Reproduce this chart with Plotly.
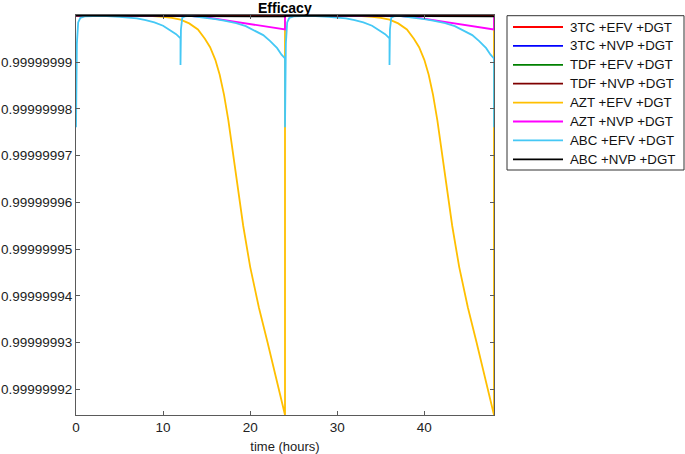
import plotly.graph_objects as go

# time points (hours) and efficacy
t_flat = [0, 24, 48]
e_3tc_efv = [0.99999999998, 0.99999999998, 0.99999999998]
e_3tc_nvp = [0.99999999998, 0.99999999998, 0.99999999998]
e_tdf_efv = [0.99999999998, 0.99999999998, 0.99999999998]
e_tdf_nvp = [0.99999999998, 0.99999999998, 0.99999999998]

t_azt_efv = [0, 4, 8, 10, 11, 12, 13, 14, 14.8, 15.4, 16, 16.5, 17, 17.5, 18, 18.5, 19.2, 20, 21, 22, 23, 24, 24,
             28, 32, 34, 35, 36, 37, 38, 38.8, 39.4, 40, 40.5, 41, 41.5, 42, 42.5, 43.2, 44, 45, 46, 47, 48, 48]
e_azt_efv = [0.99999999995, 0.99999999995, 0.99999999995, 0.9999999997, 0.9999999995, 0.9999999991,
             0.9999999983, 0.9999999970, 0.9999999950, 0.9999999932, 0.9999999905, 0.9999999873,
             0.9999999830, 0.9999999775, 0.9999999708, 0.9999999640, 0.9999999550, 0.9999999462,
             0.9999999375, 0.9999999300, 0.9999999220, 0.9999999145, 0.99999999995,
             0.99999999995, 0.99999999995, 0.9999999997, 0.9999999995, 0.9999999991,
             0.9999999983, 0.9999999970, 0.9999999950, 0.9999999932, 0.9999999905, 0.9999999873,
             0.9999999830, 0.9999999775, 0.9999999708, 0.9999999640, 0.9999999550, 0.9999999462,
             0.9999999375, 0.9999999300, 0.9999999220, 0.9999999145, 0.99999999995]

t_azt_nvp = [0, 12, 13, 15, 18, 21, 24, 24, 36, 37, 39, 42, 45, 48, 48]
e_azt_nvp = [0.99999999995, 0.99999999995, 0.9999999999, 0.9999999996, 0.9999999987, 0.9999999978,
             0.9999999970, 0.99999999995, 0.99999999995, 0.9999999999, 0.9999999996, 0.9999999987,
             0.9999999978, 0.9999999970, 0.99999999995]

t_abc_efv = [0, 0.1, 0.25, 0.5, 1, 3, 5, 7, 8, 9, 10, 10.8, 11.5, 12, 12, 12.05, 12.2, 12.5, 13, 14.6,
             16, 17, 18.4, 19.5, 20.5, 21.5, 22.3, 23.1, 23.6, 24, 24,
             24.1, 24.25, 24.5, 25, 27, 29, 31, 32, 33, 34, 34.8, 35.5, 36, 36, 36.05, 36.2, 36.5, 37, 38.6,
             40, 41, 42.4, 43.5, 44.5, 45.5, 46.3, 47.1, 47.6, 48, 48]
e_abc_efv = [0.9999999761, 0.9999999940, 0.9999999985, 0.9999999995, 0.9999999998, 0.9999999999,
             0.9999999997, 0.9999999994, 0.9999999990, 0.9999999985, 0.9999999978, 0.9999999969,
             0.9999999960, 0.9999999951, 0.9999999894, 0.9999999970, 0.9999999995, 0.9999999998,
             0.9999999999, 0.9999999996, 0.9999999992, 0.9999999989, 0.99999999835, 0.9999999977,
             0.9999999968, 0.9999999958, 0.9999999945, 0.9999999930, 0.9999999916, 0.9999999908,
             0.9999999761,
             0.9999999940, 0.9999999985, 0.9999999995, 0.9999999998, 0.9999999999,
             0.9999999997, 0.9999999994, 0.9999999990, 0.9999999985, 0.9999999978, 0.9999999969,
             0.9999999960, 0.9999999951, 0.9999999894, 0.9999999970, 0.9999999995, 0.9999999998,
             0.9999999999, 0.9999999996, 0.9999999992, 0.9999999989, 0.99999999835, 0.9999999977,
             0.9999999968, 0.9999999958, 0.9999999945, 0.9999999930, 0.9999999916, 0.9999999908,
             0.9999999761]

t_abc_nvp = [0, 12, 18, 24, 24, 36, 42, 48, 48]
e_abc_nvp = [0.99999999998, 0.99999999995, 0.9999999999, 0.9999999998, 0.99999999998,
             0.99999999995, 0.9999999999, 0.9999999998, 0.99999999998]

y_ticks = [0.99999992, 0.99999993, 0.99999994, 0.99999995, 0.99999996, 0.99999997, 0.99999998, 0.99999999]
y_tick_text = ["0.99999992", "0.99999993", "0.99999994", "0.99999995",
               "0.99999996", "0.99999997", "0.99999998", "0.99999999"]
x_ticks = [0, 10, 20, 30, 40]

series = [
    ("3TC +EFV +DGT", t_flat, e_3tc_efv, "#ff0000"),
    ("3TC +NVP +DGT", t_flat, e_3tc_nvp, "#0000ff"),
    ("TDF +EFV +DGT", t_flat, e_tdf_efv, "#008000"),
    ("TDF +NVP +DGT", t_flat, e_tdf_nvp, "#7f0000"),
    ("AZT +EFV +DGT", t_azt_efv, e_azt_efv, "#ffbf00"),
    ("AZT +NVP +DGT", t_azt_nvp, e_azt_nvp, "#ff00ff"),
    ("ABC +EFV +DGT", t_abc_efv, e_abc_efv, "#45c8f5"),
    ("ABC +NVP +DGT", t_abc_nvp, e_abc_nvp, "#000000"),
]

# plot area in pixels: left 76, top 15, width 418, height 400
L, T, W, H = 76, 15, 418, 400
def px(x): return (x - L) / W
def py(y): return (T + H - y) / H

fig = go.Figure()
for name, t, e, c in series:
    fig.add_trace(go.Scatter(x=t, y=e, name=name, mode="lines", showlegend=False,
                             line=dict(color=c, width=1.8)))

# legend drawn by hand, box like the MATLAB one
shapes = [dict(type="rect", xref="paper", yref="paper", x0=px(507), x1=px(684), y0=py(170), y1=py(15.7),
               line=dict(color="#333", width=1), fillcolor="white", layer="above")]
annotations = []
for i, (name, t, e, c) in enumerate(series):
    yy = 27 + i * 18.9
    shapes.append(dict(type="line", xref="paper", yref="paper", x0=px(513), x1=px(563), y0=py(yy), y1=py(yy),
                       line=dict(color=c, width=1.8), layer="above"))
    annotations.append(dict(text=name, xref="paper", yref="paper", x=px(568), y=py(yy),
                            xanchor="left", yanchor="middle", showarrow=False,
                            font=dict(size=13.3, color="#111")))

annotations.append(dict(text="<b>Efficacy</b>", xref="paper", yref="paper", x=0.5, y=1,
                        yanchor="bottom", showarrow=False, yshift=-3,
                        font=dict(size=14, color="#000")))

axis_style = dict(showline=True, linecolor="#5a5a5a", linewidth=1, mirror="ticks",
                  ticks="inside", ticklen=4, tickcolor="#5a5a5a", showgrid=False,
                  zeroline=False, automargin=False, tickfont=dict(size=13.5, color="#222"))

fig.update_xaxes(range=[0, 48], tickvals=x_ticks,
                 title=dict(text="time (hours)", font=dict(size=13, color="#222"), standoff=7),
                 **axis_style)
fig.update_yaxes(range=[0.9999999145, 1.0000000001], tickvals=y_ticks, ticktext=y_tick_text,
                 **axis_style)

fig.update_layout(
    width=685, height=454,
    margin=dict(l=L, r=685 - L - W, t=T, b=454 - T - H, autoexpand=False),
    paper_bgcolor="white", plot_bgcolor="white",
    font=dict(family="Arial, Liberation Sans, sans-serif", size=13, color="#222"),
    shapes=shapes, annotations=annotations,
    showlegend=False,
)

# the page body has an 8px margin by default; drop it so the figure fills the window
fig.write_html("out.html", config={"displayModeBar": False},
               post_script="document.body.style.margin='0';")
